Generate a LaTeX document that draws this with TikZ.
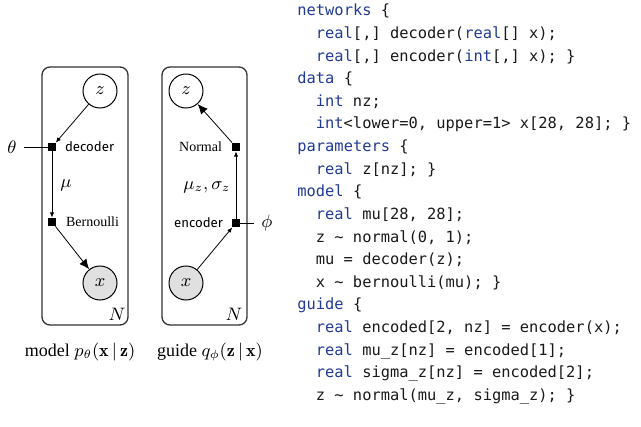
\documentclass[tikz,border=0pt]{standalone}
\usepackage{fontspec}
\usepackage{amsmath}
\setmonofont{DejaVu Sans Mono}
\newfontfamily\labelsf{Fira Sans}
\newfontfamily\labelrm{Liberation Serif}
\usetikzlibrary{arrows.meta}

\definecolor{kwblue}{RGB}{32,58,150}
\definecolor{codegray}{RGB}{25,25,25}
\newcommand{\kw}[1]{\textcolor{kwblue}{#1}}

\begin{document}
\begin{tikzpicture}[x=0.5pt,y=-0.5pt,
    rv/.style={circle, draw, minimum size=17pt, inner sep=0, line width=0.5pt},
    obsrv/.style={rv, fill=black!12},
    fac/.style={rectangle, fill=black, minimum size=4pt, inner sep=0},
    plate/.style={draw=black!80, line width=0.65pt, rounded corners=4pt},
    smallarr/.style={-{Latex[length=2.6pt,width=2.2pt]}, line width=0.4pt},
    bigarr/.style={-{Latex[length=5pt,width=4.4pt]}, line width=0.4pt},
    sflabel/.style={font=\fontsize{6.6}{8}\labelsf},
    rmlabel/.style={font=\fontsize{7}{8}\labelrm},
    caption/.style={font=\fontsize{9}{11}\labelrm},
    every node/.style={font=\fontsize{9}{11}\selectfont}]

  \useasboundingbox (0,0) rectangle (641,427);

  % model
  \draw[plate] (42,67) rectangle (128,325);
  \node[rv] (zm) at (100,91) {$z$};
  \node[obsrv] (xm) at (100,283) {$x$};
  \node[fac] (dec) at (52,147) {};
  \node[fac] (ber) at (52,222) {};
  \node (theta) at (12,147) {$\theta$};
  \node[anchor=west, sflabel] (declbl) at (58,147) {decoder};
  \node[anchor=west, rmlabel] (berlbl) at (59,222) {Bernoulli};
  \node (mu) at (66,185) {$\mu$};
  \node (nm) at (117,314) {$N$};
  \node[caption] (capm) at (80,352) {model $p_\theta(\mathbf{x}\,|\,\mathbf{z})$};

  \draw[smallarr] (zm) -- (dec);
  \draw[smallarr] (dec) -- (ber);
  \draw[bigarr] (ber) -- (xm);
  \draw[line width=0.4pt] (theta) -- (dec);

  % guide
  \draw[plate] (162,67) rectangle (247,325);
  \node[rv] (zg) at (186,91) {$z$};
  \node[obsrv] (xg) at (186,283) {$x$};
  \node[fac] (nor) at (236,147) {};
  \node[fac] (enc) at (236,223) {};
  \node (phi) at (267,223) {$\phi$};
  \node[anchor=east, rmlabel] (norlbl) at (229,147) {Normal};
  \node[anchor=east, sflabel] (enclbl) at (230,223) {encoder};
  \node (musig) at (207,187) {$\mu_z, \sigma_z$};
  \node (ng) at (234,314) {$N$};
  \node[caption] (capg) at (210,352) {guide $q_\phi(\mathbf{z}\,|\,\mathbf{x})$};

  \draw[smallarr] (xg) -- (enc);
  \draw[smallarr] (enc) -- (nor);
  \draw[bigarr] (nor) -- (zg);
  \draw[line width=0.4pt] (enc) -- (phi);

  % program
  \begin{scope}[every node/.style={anchor=base west, inner sep=0, text=codegray,
      font=\fontsize{7.7}{9}\ttfamily}]
    \node (c1)  at (297,16)    {\kw{networks} \{};
    \node (c2)  at (315.5,38.6)  {\kw{real}[,] decoder(\kw{real}[] x);};
    \node (c3)  at (315.5,61.2)  {\kw{real}[,] encoder(\kw{int}[,] x); \}};
    \node (c4)  at (297,83.8)  {\kw{data} \{};
    \node (c5)  at (315.5,106.4) {\kw{int} nz;};
    \node (c6)  at (315.5,129)   {\kw{int}<lower=0, upper=1> x[28, 28]; \}};
    \node (c7)  at (297,151.6) {\kw{parameters} \{};
    \node (c8)  at (315.5,174.2) {\kw{real} z[nz]; \}};
    \node (c9)  at (297,196.8) {\kw{model} \{};
    \node (c10) at (315.5,219.4) {\kw{real} mu[28, 28];};
    \node (c11) at (315.5,242)   {z \textasciitilde{} normal(0, 1);};
    \node (c12) at (315.5,264.6) {mu = decoder(z);};
    \node (c13) at (315.5,287.2) {x \textasciitilde{} bernoulli(mu); \}};
    \node (c14) at (297,309.8) {\kw{guide} \{};
    \node (c15) at (315.5,332.4) {\kw{real} encoded[2, nz] = encoder(x);};
    \node (c16) at (315.5,355)   {\kw{real} mu\_z[nz] = encoded[1];};
    \node (c17) at (315.5,377.6) {\kw{real} sigma\_z[nz] = encoded[2];};
    \node (c18) at (315.5,400.2) {z \textasciitilde{} normal(mu\_z, sigma\_z); \}};
  \end{scope}

\end{tikzpicture}
\end{document}
